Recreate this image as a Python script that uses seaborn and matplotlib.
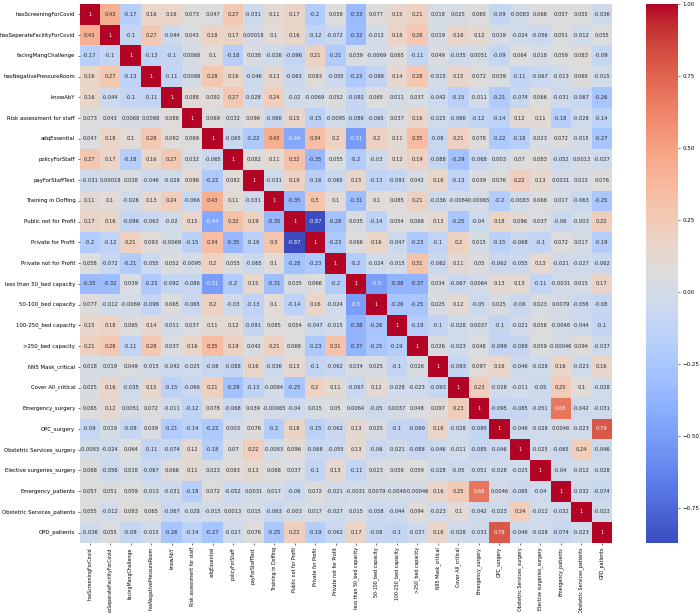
#!/usr/bin/env python3

import numpy as np
import pandas as pd
import seaborn as sns
import matplotlib
matplotlib.use("Agg")
import matplotlib.pyplot as plt

labels = [
    "hasScreeningForCovid", "hasSeperateFacilityForCovid", "facingMangChallenge",
    "hasNegativePressureRoom", "knowAbY", "Risk assessment for staff", "adqEssential",
    "policyForStaff", "payForStaffTest", "Training in Doffing", "Public not for Profit",
    "Private for Profit", "Private not for Profit", "less than 50_bed capacity",
    "50-100_bed capacity", "100-250_bed capacity", ">250_bed capacity", "N95 Mask_critical",
    "Cover All_critical", "Emergency_surgery", "OPC_surgery", "Obstetric Services_surgery",
    "Elective surgeries_surgery", "Emergency_patients", "Obstetric Services_patients",
    "OPD_patients",
]

# upper triangle of the correlation matrix, one list per row, starting at the diagonal
row_00 = [1, 0.43, -0.17, 0.16, 0.16, 0.073, 0.047, 0.27, -0.031, 0.11, 0.17, -0.2, 0.058, -0.33,
          0.077, 0.15, 0.21, 0.018, 0.025, 0.065, -0.09, -0.0083, 0.068, 0.057, 0.055, -0.036]
row_01 = [1, -0.1, 0.27, -0.044, 0.043, 0.18, 0.17, 0.00018, 0.1, 0.16, -0.12, -0.072, -0.32,
          -0.012, 0.18, 0.28, 0.019, 0.16, 0.12, 0.019, -0.024, -0.056, 0.051, -0.012, 0.055]
row_02 = [1, -0.13, -0.1, 0.0068, 0.1, -0.18, 0.038, -0.026, -0.096, 0.21, -0.21, 0.039, -0.0069,
          0.065, -0.11, 0.049, -0.035, 0.0051, -0.09, 0.064, 0.018, 0.059, 0.083, -0.09]
row_03 = [1, -0.11, 0.0098, 0.28, 0.16, -0.046, 0.13, -0.063, 0.093, -0.055, -0.23, -0.098, 0.14,
          0.28, -0.015, 0.15, 0.072, 0.039, -0.11, -0.067, -0.013, 0.065, -0.015]
row_04 = [1, 0.088, 0.092, 0.27, -0.028, 0.24, -0.02, -0.0069, 0.052, -0.092, 0.065, 0.011, 0.037,
          -0.042, -0.15, -0.011, -0.21, -0.074, 0.066, -0.031, -0.067, -0.26]
row_05 = [1, 0.069, 0.032, 0.096, -0.066, 0.15, -0.15, -0.0095, -0.086, -0.065, 0.037, 0.16,
          -0.025, -0.066, -0.12, -0.14, 0.12, 0.11, -0.18, -0.028, -0.14]
row_06 = [1, -0.065, -0.22, 0.43, -0.44, 0.34, 0.2, -0.51, 0.2, 0.11, 0.35, -0.08, 0.21, 0.078,
          -0.22, -0.18, 0.023, 0.072, -0.015, -0.27]
row_07 = [1, 0.082, 0.11, 0.32, -0.35, 0.055, -0.2, -0.03, 0.12, 0.19, -0.088, -0.29, -0.068,
          0.003, 0.07, 0.083, -0.052, 0.0013, -0.027]
row_08 = [1, -0.031, 0.19, -0.16, -0.065, 0.15, -0.13, -0.091, 0.042, 0.16, -0.13, 0.039, 0.076,
          0.22, 0.13, 0.0031, 0.015, 0.076]
row_09 = [1, -0.35, 0.3, 0.1, -0.31, 0.1, 0.085, 0.21, -0.036, -0.0084, -0.00065, -0.2, -0.0083,
          0.068, 0.017, -0.063, -0.25]
row_10 = [1, -0.87, -0.28, 0.035, -0.14, 0.054, 0.068, 0.13, -0.25, -0.04, 0.18, 0.096, 0.037,
          -0.06, -0.003, 0.22]
row_11 = [1, -0.23, 0.066, 0.16, -0.047, -0.23, -0.1, 0.2, 0.015, -0.15, -0.068, -0.1, 0.072,
          0.017, -0.19]
row_12 = [1, -0.2, -0.024, -0.015, 0.31, -0.062, 0.11, 0.05, -0.062, -0.055, 0.13, -0.021, -0.027,
          -0.062]
row_13 = [1, -0.5, -0.38, -0.37, 0.034, -0.067, 0.0064, 0.13, 0.13, -0.11, -0.0031, 0.015, 0.17]
row_14 = [1, -0.26, -0.25, 0.025, 0.12, -0.05, 0.025, -0.06, 0.023, 0.0079, -0.058, -0.08]
row_15 = [1, -0.19, -0.1, -0.028, 0.0037, -0.1, -0.021, 0.056, -0.0048, -0.044, -0.1]
row_16 = [1, 0.026, -0.023, 0.048, -0.099, -0.088, 0.059, -0.00046, 0.094, -0.037]
row_17 = [1, -0.093, 0.097, 0.16, -0.046, -0.028, 0.16, -0.023, 0.16]
row_18 = [1, 0.23, -0.028, -0.011, -0.05, 0.25, 0.1, -0.028]
row_19 = [1, -0.095, -0.085, -0.051, 0.68, -0.042, -0.031]
row_20 = [1, -0.046, -0.028, 0.0046, -0.023, 0.79]
row_21 = [1, -0.025, -0.065, 0.24, -0.046]
row_22 = [1, -0.04, -0.012, -0.028]
row_23 = [1, -0.032, -0.074]
row_24 = [1, -0.023]
row_25 = [1]

rows = [row_00, row_01, row_02, row_03, row_04, row_05, row_06, row_07, row_08, row_09, row_10,
        row_11, row_12, row_13, row_14, row_15, row_16, row_17, row_18, row_19, row_20, row_21,
        row_22, row_23, row_24, row_25]

# mirror the upper triangle to get the full matrix
n = len(labels)
matrix = np.zeros((n, n))
for i, row in enumerate(rows):
    matrix[i, i:] = row
    matrix[i:, i] = row
corr = pd.DataFrame(matrix, index=labels, columns=labels)

W, H = 700, 613
fig = plt.figure(figsize=(W / 100, H / 100), dpi=100)
ax = fig.add_axes([79.5 / W, 1 - 543 / H, 532.5 / W, 539 / H])
cax = fig.add_axes([646 / W, 1 - 543 / H, 32 / W, 539 / H])

sns.heatmap(corr, annot=True, cmap="coolwarm", ax=ax, cbar_ax=cax,
            annot_kws={"size": 3.7})

ax.tick_params(axis="x", labelsize=3.4, length=1.5, width=0.4, pad=1.5, labelrotation=90)
ax.tick_params(axis="y", labelsize=3.9, length=1.5, width=0.4, pad=1.5, labelrotation=0)
cax.tick_params(labelsize=4, length=1.5, width=0.4, pad=1.5)

fig.savefig("out.png", dpi=100)
